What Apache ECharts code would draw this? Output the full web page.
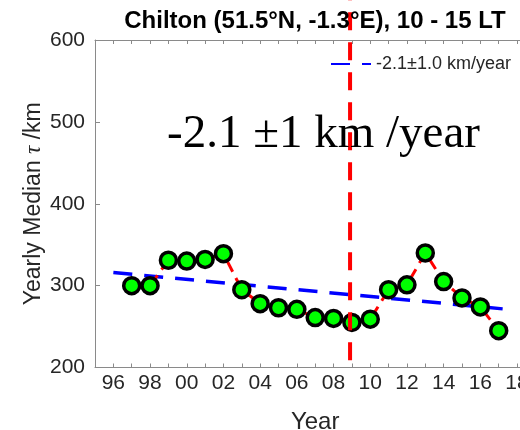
<!DOCTYPE html>
<html>
<head>
<meta charset="utf-8">
<script src="https://cdn.jsdelivr.net/npm/echarts@6/dist/echarts.min.js"></script>
<style>
  html, body { margin: 0; padding: 0; background: #fff; }
  #chart { width: 520px; height: 430px; }
</style>
</head>
<body>
<div id="chart"></div>
<script>
// Yearly median tau at Chilton, 10-15 LT
const years = [1997, 1998, 1999, 2000, 2001, 2002, 2003, 2004, 2005, 2006, 2007,
               2008, 2009, 2010, 2011, 2012, 2013, 2014, 2015, 2016, 2017];
const medianTau = [300, 300, 331, 330, 332, 339, 295, 278, 273, 271, 261,
                   260, 255, 259, 295, 301, 340, 305, 285, 274, 245];

// Linear trend (-2.1 km/year), given by its two end points
const trendYears = [1996, 2017.5];
const trendValues = [316, 271];
const trendName = '-2.1\u00b11.0 km/year';

// Vertical marker year and its vertical extent
const markerYear = [2008.9, 2008.9];
const markerSpan = [209, 660];

const yTicks = [200, 300, 400, 500, 600];
const annotation = '-2.1 \u00b11 km /year';
const titleText = 'Chilton (51.5\u00b0N, -1.3\u00b0E), 10 - 15 LT';

const FONT = '"Liberation Sans", Arial, sans-serif';
const AXIS_GREY = '#8a8a8a';
const TEXT_DARK = '#262626';

const chart = echarts.init(document.getElementById('chart'), null, { renderer: 'canvas' });

// The plot area runs on past the right edge of the window
const gridLeft = 95, gridTop = 40, gridHeight = 327.5;
const plotWidth = 440.4;

chart.setOption({
  animation: false,
  backgroundColor: '#fff',
  title: {
    text: titleText,
    left: 310,
    top: 4,
    textAlign: 'center',
    textStyle: { fontFamily: FONT, fontSize: 24, fontWeight: 'bold', color: '#000' }
  },
  legend: {
    data: [trendName],
    left: 330,
    top: 55,
    padding: 0,
    itemWidth: 40,
    itemHeight: 14,
    itemStyle: { opacity: 0 },
    textStyle: { fontFamily: FONT, fontSize: 18, color: TEXT_DARK }
  },
  grid: {
    left: gridLeft,
    top: gridTop,
    width: plotWidth,
    height: gridHeight,
    containLabel: false,
    outerBoundsMode: 'none'
  },
  xAxis: [
    {
      type: 'value',
      min: 1995,
      max: 2019,
      interval: 1,
      name: 'Year',
      nameLocation: 'middle',
      nameGap: 43,
      nameTextStyle: { fontFamily: FONT, fontSize: 24, color: TEXT_DARK },
      splitLine: { show: false },
      axisLine: { lineStyle: { color: AXIS_GREY, width: 1 } },
      axisTick: { inside: true, length: 4, lineStyle: { color: AXIS_GREY } },
      axisLabel: {
        fontFamily: FONT, fontSize: 21, color: TEXT_DARK, margin: 5,
        formatter: v => (v % 2 === 0 ? String(v % 100).padStart(2, '0') : '')
      }
    },
    {
      type: 'value',
      position: 'top',
      min: 1995,
      max: 2019,
      interval: 1,
      splitLine: { show: false },
      axisLine: { lineStyle: { color: AXIS_GREY, width: 1 } },
      axisTick: { inside: true, length: 4, lineStyle: { color: AXIS_GREY } },
      axisLabel: { show: false }
    }
  ],
  yAxis: {
    type: 'value',
    min: yTicks[0],
    max: yTicks[yTicks.length - 1],
    interval: 100,
    name: '{n|Yearly Median }{t|\u03c4}{n| /km}',
    nameLocation: 'middle',
    nameGap: 50,
    nameMoveOverlap: false,
    nameTextStyle: {
      rich: {
        n: { fontFamily: FONT, fontSize: 23, color: TEXT_DARK },
        t: { fontFamily: '"Liberation Serif", serif', fontStyle: 'italic', fontSize: 23, color: TEXT_DARK }
      }
    },
    splitLine: { show: false },
    axisLine: { show: true, lineStyle: { color: AXIS_GREY, width: 1 } },
    axisTick: { inside: true, length: 5, lineStyle: { color: AXIS_GREY } },
    axisLabel: { fontFamily: FONT, fontSize: 21, color: TEXT_DARK, margin: 10 }
  },
  series: [
    {
      name: trendName,
      type: 'line',
      data: trendYears.map((y, i) => [y, trendValues[i]]),
      symbol: 'none',
      lineStyle: { color: '#0000ff', width: 3.5, type: [19, 12] },
      itemStyle: { color: '#0000ff' },
      z: 2
    },
    {
      name: 'median',
      type: 'line',
      data: years.map((y, i) => [y, medianTau[i]]),
      symbol: 'circle',
      symbolSize: 16,
      lineStyle: { color: '#ff0000', width: 3, type: [12, 7] },
      itemStyle: { color: '#00ff00', borderColor: '#000', borderWidth: 3.5 },
      z: 3
    },
    {
      name: 'marker',
      type: 'line',
      data: markerYear.map((y, i) => [y, markerSpan[i]]),
      symbol: 'none',
      clip: false,
      lineStyle: { color: '#ff0000', width: 4, type: [18, 12] },
      z: 5
    }
  ],
  graphic: [
    {
      type: 'text',
      left: 167,
      top: 111,
      z: 10,
      style: {
        text: annotation,
        font: '47px "Liberation Serif", "Times New Roman", serif',
        fill: '#000'
      }
    }
  ]
});
</script>
</body>
</html>
